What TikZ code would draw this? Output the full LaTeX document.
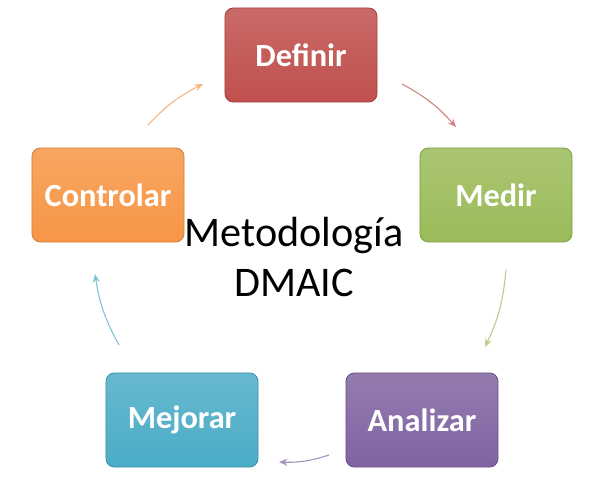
\documentclass[tikz,border=0pt]{standalone}
\usepackage{fontspec}
\setmainfont{Carlito}
\usetikzlibrary{arrows.meta}
\begin{document}
\begin{tikzpicture}[x=0.025cm,y=-0.025cm,
  box/.style={rounded corners=6pt,minimum width=3.8cm,minimum height=2.35cm,text=white,font=\bfseries\fontsize{23}{26}\selectfont,draw=#1!85!black,top color=#1!85!white,bottom color=#1,line width=0.6pt},
  arr/.style={-{Stealth[length=6pt,width=5pt]},line width=0.8pt,draw=#1!70!white}]
\useasboundingbox (0,0) rectangle (601,480);
\definecolor{cD}{HTML}{C0504D}\definecolor{cM}{HTML}{9BBB59}
\definecolor{cA}{HTML}{8064A2}\definecolor{cJ}{HTML}{4BACC6}
\definecolor{cC}{HTML}{F79646}
\node[box=cD] (d) at (301,55) {Definir};
\node[box=cM] (m) at (496,195) {Medir};
\node[box=cA] (a) at (422,420) {Analizar};
\node[box=cJ] (j) at (182,420) {Mejorar};
\node[box=cC] (c) at (108,195) {Controlar};
\node[align=center,font=\fontsize{30}{36}\selectfont] (t) at (294,257) {Metodología\\DMAIC};
\coordinate (d1) at (402,84); \coordinate (d2) at (456,127);
\coordinate (m1) at (506,270); \coordinate (m2) at (485,347);
\coordinate (a1) at (329,455); \coordinate (a2) at (279,462);
\coordinate (j1) at (119,345); \coordinate (j2) at (95,274);
\coordinate (c1) at (148,125); \coordinate (c2) at (203,84);
\draw[arr=cD] (d1) to[bend left=10] (d2);
\draw[arr=cM] (m1) to[bend left=10] (m2);
\draw[arr=cA] (a1) to[bend left=10] (a2);
\draw[arr=cJ] (j1) to[bend left=10] (j2);
\draw[arr=cC] (c1) to[bend left=10] (c2);
\end{tikzpicture}
\end{document}
